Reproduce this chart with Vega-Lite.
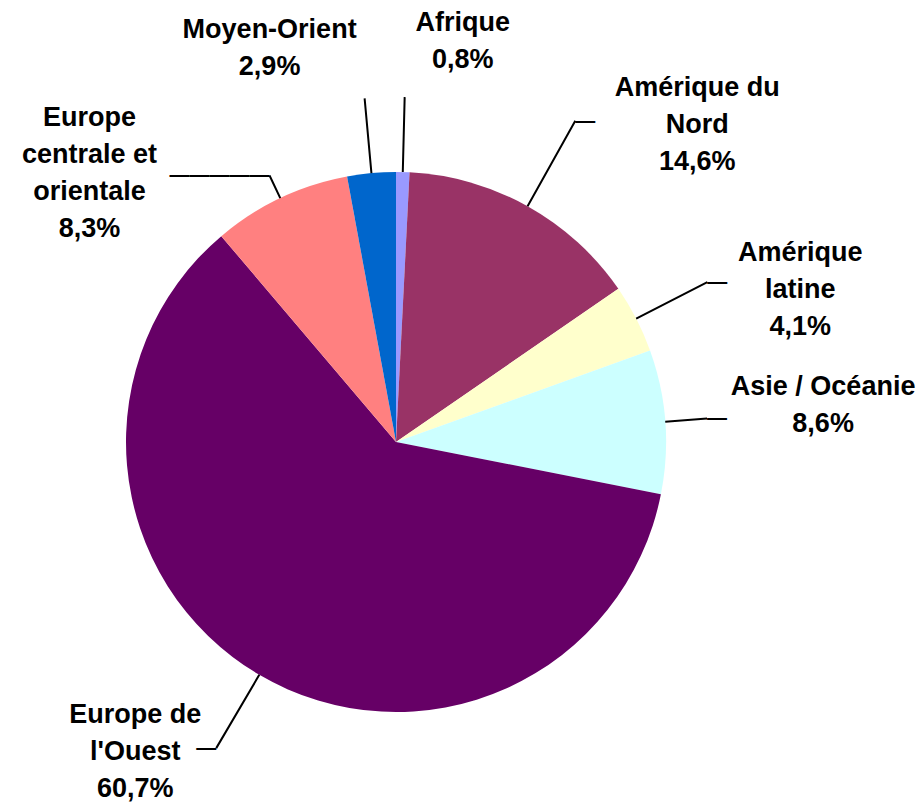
{
  "$schema": "https://vega.github.io/schema/vega-lite/v6.json",
  "width": 792,
  "height": 724,
  "autosize": {"type": "none"},
  "padding": {"left": 0, "top": 80, "right": 131, "bottom": 1},
  "background": "white",
  "config": {"view": {"stroke": null}, "text": {"font": "Liberation Sans"}},
  "data": {
    "values": [
      {"region": "Afrique", "pct": 0.8, "order": 1, "label": "Afrique\n0,8%"},
      {"region": "Amérique du Nord", "pct": 14.6, "order": 2, "label": "Amérique du\nNord\n14,6%"},
      {"region": "Amérique latine", "pct": 4.1, "order": 3, "label": "Amérique\nlatine\n4,1%"},
      {"region": "Asie / Océanie", "pct": 8.6, "order": 4, "label": "Asie / Océanie\n8,6%"},
      {"region": "Europe de l'Ouest", "pct": 60.7, "order": 5, "label": "Europe de\nl'Ouest\n60,7%"},
      {"region": "Europe centrale et orientale", "pct": 8.3, "order": 6, "label": "Europe\ncentrale et\norientale\n8,3%"},
      {"region": "Moyen-Orient", "pct": 2.9, "order": 7, "label": "Moyen-Orient\n2,9%"}
    ]
  },
  "layer": [
    {
      "mark": {"type": "arc", "radius": 270},
      "encoding": {
        "theta": {"field": "pct", "type": "quantitative", "stack": true, "scale": {"domain": [0, 100]}},
        "order": {"field": "order", "type": "quantitative"},
        "color": {
          "field": "region",
          "type": "nominal",
          "scale": {
            "domain": ["Afrique", "Amérique du Nord", "Amérique latine", "Asie / Océanie", "Europe de l'Ouest", "Europe centrale et orientale", "Moyen-Orient"],
            "range": ["#9999FF", "#993366", "#FFFFCC", "#CCFFFF", "#660066", "#FF8080", "#0066CC"]
          },
          "legend": null
        }
      }
    },
    {
      "transform": [
        {"stack": "pct", "groupby": [], "sort": [{"field": "order", "order": "ascending"}], "as": ["v0", "v1"]},
        {"fold": ["v0", "v1"]},
        {"aggregate": [{"op": "mean", "field": "value", "as": "mid"}], "groupby": ["region", "label", "order"]}
      ],
      "encoding": {
        "theta": {"field": "mid", "type": "quantitative", "stack": null, "scale": {"domain": [0, 100]}}
      },
      "layer": [
        {
          "transform": [{"filter": {"field": "order", "equal": 1}}],
          "layer": [
            {"mark": {"type": "arc", "radius": 345, "radius2": 270, "filled": false, "stroke": "black", "strokeWidth": 2}, "encoding": {"theta2": {"field": "mid"}}},
            {"mark": {"type": "text", "radius": 345, "dx": 58, "dy": -66, "align": "center", "baseline": "alphabetic", "lineBreak": "\n", "lineHeight": 37, "fontSize": 27, "fontWeight": "bold", "color": "black"}, "encoding": {"text": {"field": "label"}}}
          ]
        },
        {
          "transform": [{"filter": {"field": "order", "equal": 2}}],
          "layer": [
            {"mark": {"type": "arc", "radius": 368, "radius2": 270, "filled": false, "stroke": "black", "strokeWidth": 2}, "encoding": {"theta2": {"field": "mid"}}},
            {"mark": {"type": "text", "radius": 368, "text": "—", "align": "left", "baseline": "middle", "fontSize": 20, "fontWeight": "bold", "color": "black"}, "encoding": {}},
            {"mark": {"type": "text", "radius": 368, "dx": 122, "dy": -25, "align": "center", "baseline": "alphabetic", "lineBreak": "\n", "lineHeight": 37, "fontSize": 27, "fontWeight": "bold", "color": "black"}, "encoding": {"text": {"field": "label"}}}
          ]
        },
        {
          "transform": [{"filter": {"field": "order", "equal": 3}}],
          "layer": [
            {"mark": {"type": "arc", "radius": 350, "radius2": 270, "filled": false, "stroke": "black", "strokeWidth": 2}, "encoding": {"theta2": {"field": "mid"}}},
            {"mark": {"type": "text", "radius": 350, "text": "—", "align": "left", "baseline": "middle", "fontSize": 20, "fontWeight": "bold", "color": "black"}, "encoding": {}},
            {"mark": {"type": "text", "radius": 350, "dx": 93, "dy": -21, "align": "center", "baseline": "alphabetic", "lineBreak": "\n", "lineHeight": 37, "fontSize": 27, "fontWeight": "bold", "color": "black"}, "encoding": {"text": {"field": "label"}}}
          ]
        },
        {
          "transform": [{"filter": {"field": "order", "equal": 4}}],
          "layer": [
            {"mark": {"type": "arc", "radius": 312, "radius2": 270, "filled": false, "stroke": "black", "strokeWidth": 2}, "encoding": {"theta2": {"field": "mid"}}},
            {"mark": {"type": "text", "radius": 312, "text": "—", "align": "left", "baseline": "middle", "fontSize": 20, "fontWeight": "bold", "color": "black"}, "encoding": {}},
            {"mark": {"type": "text", "radius": 312, "dx": 116, "dy": -23, "align": "center", "baseline": "alphabetic", "lineBreak": "\n", "lineHeight": 37, "fontSize": 27, "fontWeight": "bold", "color": "black"}, "encoding": {"text": {"field": "label"}}}
          ]
        },
        {
          "transform": [{"filter": {"field": "order", "equal": 5}}],
          "layer": [
            {"mark": {"type": "arc", "radius": 355, "radius2": 270, "filled": false, "stroke": "black", "strokeWidth": 2}, "encoding": {"theta2": {"field": "mid"}}},
            {"mark": {"type": "text", "radius": 355, "text": "—", "align": "right", "baseline": "middle", "fontSize": 20, "fontWeight": "bold", "color": "black"}, "encoding": {}},
            {"mark": {"type": "text", "radius": 355, "dx": -81, "dy": -25, "align": "center", "baseline": "alphabetic", "lineBreak": "\n", "lineHeight": 37, "fontSize": 27, "fontWeight": "bold", "color": "black"}, "encoding": {"text": {"field": "label"}}}
          ]
        },
        {
          "transform": [{"filter": {"field": "order", "equal": 6}}],
          "layer": [
            {"mark": {"type": "arc", "radius": 295, "radius2": 270, "filled": false, "stroke": "black", "strokeWidth": 2}, "encoding": {"theta2": {"field": "mid"}}},
            {"mark": {"type": "text", "radius": 295, "text": "—————", "align": "right", "baseline": "middle", "fontSize": 20, "fontWeight": "bold", "color": "black"}, "encoding": {}},
            {"mark": {"type": "text", "radius": 295, "dx": -180, "dy": -49, "align": "center", "baseline": "alphabetic", "lineBreak": "\n", "lineHeight": 37, "fontSize": 27, "fontWeight": "bold", "color": "black"}, "encoding": {"text": {"field": "label"}}}
          ]
        },
        {
          "transform": [{"filter": {"field": "order", "equal": 7}}],
          "layer": [
            {"mark": {"type": "arc", "radius": 345, "radius2": 270, "filled": false, "stroke": "black", "strokeWidth": 2}, "encoding": {"theta2": {"field": "mid"}}},
            {"mark": {"type": "text", "radius": 345, "dx": -95, "dy": -60, "align": "center", "baseline": "alphabetic", "lineBreak": "\n", "lineHeight": 37, "fontSize": 27, "fontWeight": "bold", "color": "black"}, "encoding": {"text": {"field": "label"}}}
          ]
        }
      ]
    }
  ]
}
